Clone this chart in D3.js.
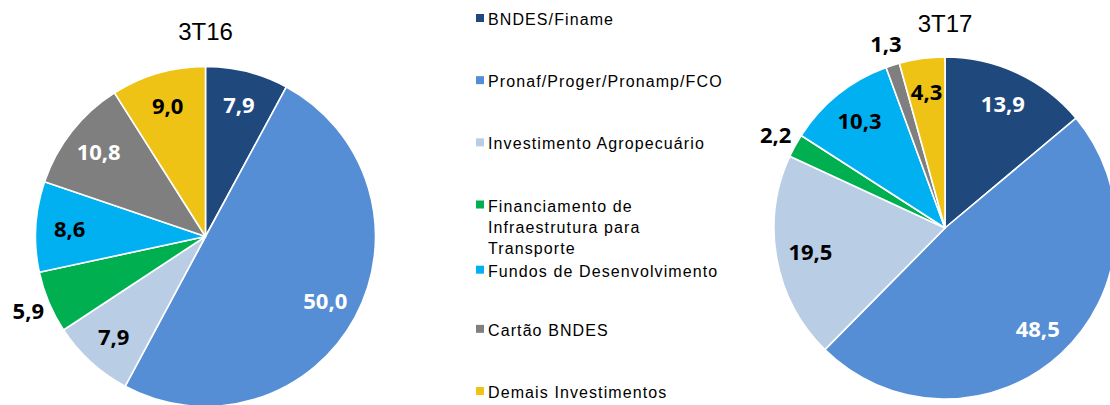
<!DOCTYPE html>
<html><head><meta charset="utf-8">
<script src="https://cdn.jsdelivr.net/npm/d3@7"></script>
<style>
html,body{margin:0;padding:0;background:#fff;}
svg{display:block;}
</style></head>
<body>
<svg id="chart" width="1110" height="405"></svg>
<script>
const categories = [
  "BNDES/Finame",
  "Pronaf/Proger/Pronamp/FCO",
  "Investimento Agropecuário",
  "Financiamento de Infraestrutura para Transporte",
  "Fundos de Desenvolvimento",
  "Cartão BNDES",
  "Demais Investimentos"
];
const legendLines = [
  ["BNDES/Finame"],
  ["Pronaf/Proger/Pronamp/FCO"],
  ["Investimento Agropecuário"],
  ["Financiamento de", "Infraestrutura para", "Transporte"],
  ["Fundos de Desenvolvimento"],
  ["Cartão BNDES"],
  ["Demais Investimentos"]
];
const values3T16 = [7.9, 50.0, 7.9, 5.9, 8.6, 10.8, 9.0];
const values3T17 = [13.9, 48.5, 19.5, 2.2, 10.3, 1.3, 4.3];
const pieTitles = ["3T16", "3T17"];
const outside3T16 = [3];
const outside3T17 = [3, 5];

const colors = ["#1F497D", "#558ED5", "#B9CDE5", "#00B050", "#00B0F0", "#7F7F7F", "#EEC316"];
const whiteLabel = [true, true, false, false, false, true, false];

const svg = d3.select("#chart");
const color = d3.scaleOrdinal().domain(categories).range(colors);
const fmt = v => d3.format(".1f")(v).replace(".", ",");

const pies = [
  {title: pieTitles[0], values: values3T16, outside: outside3T16, cx: 205.5, cy: 236.5, r: 170, ty: 40},
  {title: pieTitles[1], values: values3T17, outside: outside3T17, cx: 945, cy: 228, r: 171, ty: 32}
];

const pieGen = d3.pie().sort(null).value(d => d.v);

pies.forEach(p => {
  const data = p.values.map((v, i) => ({v, i, cat: categories[i]}));
  const arcs = pieGen(data);
  const g = svg.append("g").attr("transform", `translate(${p.cx},${p.cy})`);
  const arc = d3.arc().innerRadius(0).outerRadius(p.r);
  g.selectAll("path").data(arcs).join("path")
    .attr("d", arc)
    .attr("fill", d => color(d.data.cat))
    .attr("stroke", "#fff")
    .attr("stroke-width", 1.6)
    .attr("stroke-linejoin", "round");
  const inArc = d3.arc().innerRadius(p.r * 0.8).outerRadius(p.r * 0.8);
  const outArc = d3.arc().innerRadius(p.r * 1.13).outerRadius(p.r * 1.13);
  g.selectAll("text.lbl").data(arcs).join("text")
    .attr("class", "lbl")
    .attr("transform", d => {
      const out = p.outside.includes(d.data.i);
      const c = (out ? outArc : inArc).centroid(d);
      return `translate(${c[0]},${c[1]})`;
    })
    .attr("text-anchor", "middle")
    .attr("dy", "0.36em")
    .attr("font-family", "'Open Sans', sans-serif")
    .attr("font-weight", 700)
    .attr("font-size", 22)
    .attr("fill", d => (!p.outside.includes(d.data.i) && whiteLabel[d.data.i]) ? "#fff" : "#000")
    .text(d => fmt(d.data.v));
  svg.append("text")
    .attr("x", p.cx).attr("y", p.ty)
    .attr("text-anchor", "middle")
    .attr("font-family", "'Liberation Sans', Arial, sans-serif")
    .attr("font-size", 24)
    .attr("fill", "#000")
    .text(p.title);
});

// Legend
const ly = d3.scalePoint().domain(categories).range([25, 398]);
const lg = svg.append("g");
categories.forEach((c, i) => {
  const y = ly(c) + (i === 4 ? 3 : 0);
  lg.append("rect").attr("x", 476).attr("y", y - 11).attr("width", 8).attr("height", 8).attr("fill", color(c));
  const t = lg.append("text")
    .attr("x", 488).attr("y", y)
    .attr("font-family", "'Liberation Sans', Arial, sans-serif")
    .attr("font-size", 16)
    .attr("letter-spacing", "1.1px")
    .attr("fill", "#000");
  legendLines[i].forEach((line, k) => {
    t.append("tspan").attr("x", 488).attr("y", y + k * 21).text(line);
  });
});
</script>
</body></html>
